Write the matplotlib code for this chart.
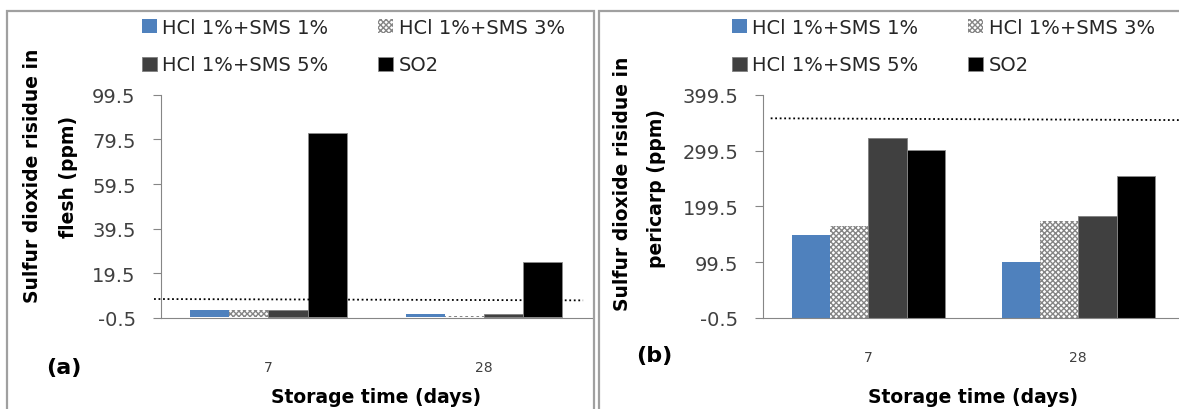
import matplotlib
matplotlib.use("Agg")
import matplotlib.pyplot as plt
from matplotlib.patches import Rectangle
import numpy as np

# Daten
days = ["7", "28"]
series = ["HCl 1%+SMS 1%", "HCl 1%+SMS 3%", "HCl 1%+SMS 5%", "SO2"]
flesh_sms1 = [3.1, 1.3]
flesh_sms3 = [3.0, 0.5]
flesh_sms5 = [3.1, 1.3]
flesh_so2 = [82.3, 24.4]
pericarp_sms1 = [147.7, 99.3]
pericarp_sms3 = [163.8, 173.9]
pericarp_sms5 = [321.5, 181.7]
pericarp_so2 = [300.5, 254.5]
flesh_limit = [8.0, 7.4]        # gepunktete Grenzlinie (links -> rechts)
pericarp_limit = [357.2, 354.0]
flesh_ticks = [-0.5, 19.5, 39.5, 59.5, 79.5, 99.5]
pericarp_ticks = [-0.5, 99.5, 199.5, 299.5, 399.5]

W, H = 1179, 410
plt.rcParams['font.family'] = ['DejaVu Sans']
plt.rcParams['hatch.linewidth'] = 1.0

fig = plt.figure(figsize=(W / 100, H / 100), dpi=100)

styles = [
    dict(color='#4F81BD', edgecolor='#4F81BD', linewidth=0),
    dict(color='white', edgecolor='#858585', hatch='xxxxxx', linewidth=0),
    dict(color='#404040', edgecolor='#7f7f7f', linewidth=0.6),
    dict(color='black', edgecolor='#8c8c8c', linewidth=0.6),
]


def px(x, y):
    return x / W, 1 - y / H


def panel(rect, data, ticks, limit, limit_span, ylabel2, tag, tag_y, tick_pad,
          ylab_x, ylab_y, leg_xy):
    ax = fig.add_axes(rect)
    x = np.arange(len(days))
    bw = 0.182
    handles = []
    for i, (vals, st) in enumerate(zip(data, styles)):
        b = ax.bar(x + (i - 1.5) * bw, vals, bw, label=series[i], **st)
        handles.append(b)
    ax.set_xlim(-0.5, 1.5)
    ax.set_ylim(ticks[0], ticks[-1])
    ax.set_yticks(ticks)
    ax.set_yticklabels([f"{t:.1f}" for t in ticks], fontsize=14, color='#404040')
    ax.set_xticks(x)
    ax.set_xticklabels(days, fontsize=10, color='#404040')
    ax.tick_params(axis='y', direction='out', length=6, color='#868686', pad=12)
    ax.tick_params(axis='x', length=0, pad=tick_pad)
    for s in ['top', 'right']:
        ax.spines[s].set_visible(False)
    for s in ['left', 'bottom']:
        ax.spines[s].set_color('#868686')
    ax.plot(limit_span, limit, color='black', linestyle=(0, (1, 1.5)),
            linewidth=1.3, transform=ax.get_yaxis_transform(), clip_on=False)
    ax.set_xlabel("Storage time (days)", fontsize=13.5, fontweight='bold')
    ax.xaxis.set_label_coords(0.5, -0.35)
    ax.xaxis.label.set_va('center')

    # Legende zeilenweise wie in Excel: Spalten werden zuerst gefüllt
    order = [0, 2, 1, 3]
    leg = ax.legend(handles=[handles[k] for k in order], ncol=2, loc='upper left',
                    frameon=False, bbox_to_anchor=px(*leg_xy),
                    bbox_transform=fig.transFigure,
                    fontsize=14, handlelength=0.75, handleheight=0.75,
                    handletextpad=0.3, columnspacing=2.55, labelspacing=0.95,
                    borderpad=0, borderaxespad=0)
    for t in leg.get_texts():
        t.set_color('#262626')

    fig.text(*px(ylab_x[0], ylab_y[0]), "Sulfur dioxide risidue in", rotation=90,
             ha='center', va='center', fontsize=13.5, fontweight='bold')
    fig.text(*px(ylab_x[1], ylab_y[1]), ylabel2, rotation=90,
             ha='center', va='center', fontsize=13.5, fontweight='bold')
    fig.text(*px(*tag_y), tag, ha='center', va='center', fontsize=16,
             fontweight='bold')
    return ax


panel([160.7 / W, 91 / H, 431 / W, 223.3 / H],
      [flesh_sms1, flesh_sms3, flesh_sms5, flesh_so2], flesh_ticks,
      flesh_limit, [-0.0155, 0.98], "flesh (ppm)", "(a)", (64, 368), 30,
      (33, 68), (176, 177), (142, 19))

panel([763.3 / W, 91 / H, 420 / W, 223.3 / H],
      [pericarp_sms1, pericarp_sms3, pericarp_sms5, pericarp_so2], pericarp_ticks,
      pericarp_limit, [0.0176, 1.0], "pericarp (ppm)", "(b)", (654, 356), 23,
      (622, 657), (184, 188), (732, 19))

# Rahmen der beiden Teilbilder
top = 1 - 12 / H
fig.add_artist(Rectangle((7 / W, -0.1), (594 - 7) / W, top + 0.1,
                         transform=fig.transFigure, fill=False,
                         edgecolor='#a0a0a0', linewidth=1.6))
fig.add_artist(Rectangle((599 / W, -0.1), 0.6, top + 0.1,
                         transform=fig.transFigure, fill=False,
                         edgecolor='#a0a0a0', linewidth=1.6))

fig.savefig("out.png", dpi=100)
